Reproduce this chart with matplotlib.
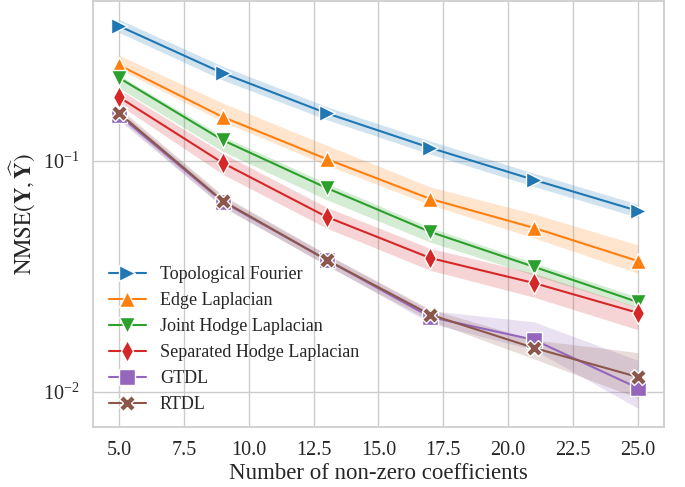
import matplotlib
matplotlib.use("Agg")
import matplotlib.pyplot as plt
import seaborn as sns
import numpy as np

x = [5, 9, 13, 17, 21, 25]
labels = ["Topological Fourier", "Edge Laplacian", "Joint Hodge Laplacian",
          "Separated Hodge Laplacian", "GTDL", "RTDL"]
markers = [">", "^", "v", "d", "s", "X"]

topo = [0.384, 0.240, 0.161, 0.114, 0.0828, 0.0608]
topo_hi = [0.410, 0.257, 0.172, 0.122, 0.0885, 0.0650]
topo_lo = [0.360, 0.224, 0.151, 0.107, 0.0775, 0.0570]

edge = [0.260, 0.155, 0.102, 0.0685, 0.0513, 0.0369]
edge_hi = [0.287, 0.178, 0.117, 0.0772, 0.0590, 0.0433]
edge_lo = [0.250, 0.148, 0.096, 0.0646, 0.0464, 0.0327]

joint = [0.229, 0.123, 0.0764, 0.0493, 0.0348, 0.0245]
joint_hi = [0.235, 0.128, 0.0800, 0.0515, 0.0362, 0.0257]
joint_lo = [0.207, 0.110, 0.0680, 0.0445, 0.0320, 0.0232]

sep = [0.189, 0.098, 0.0573, 0.0380, 0.0296, 0.0220]
sep_hi = [0.204, 0.108, 0.0630, 0.0418, 0.0326, 0.0233]
sep_lo = [0.175, 0.0875, 0.0512, 0.0336, 0.0257, 0.0186]

gtdl = [0.158, 0.0665, 0.0373, 0.0211, 0.0168, 0.0104]
gtdl_hi = [0.166, 0.0700, 0.0393, 0.0225, 0.0201, 0.0137]
gtdl_lo = [0.150, 0.0630, 0.0355, 0.0198, 0.0152, 0.0085]

rtdl = [0.161, 0.0671, 0.0373, 0.0216, 0.0155, 0.0116]
rtdl_hi = [0.170, 0.0710, 0.0395, 0.0228, 0.0168, 0.0148]
rtdl_lo = [0.153, 0.0635, 0.0352, 0.0203, 0.0139, 0.0094]

series = [(topo, topo_lo, topo_hi), (edge, edge_lo, edge_hi), (joint, joint_lo, joint_hi),
          (sep, sep_lo, sep_hi), (gtdl, gtdl_lo, gtdl_hi), (rtdl, rtdl_lo, rtdl_hi)]

sns.set_theme(style="whitegrid")
plt.rcParams["font.family"] = ["Liberation Serif", "DejaVu Serif"]
plt.rcParams["mathtext.fontset"] = "stix"

colors = sns.color_palette("tab10")

fig = plt.figure(figsize=(6.85, 4.87), dpi=100)
ax = fig.add_axes([0.136, 0.123, 0.833, 0.875])

for i, (y, lo, hi) in enumerate(series):
    c = colors[i]
    ax.fill_between(x, lo, hi, color=c, alpha=0.2, linewidth=0)
    ax.plot(x, y, color=c, marker=markers[i], markersize=11, markeredgecolor="white",
            markeredgewidth=1.0, linewidth=1.5, label=labels[i])

ax.set_yscale("log")
ax.set_xlim(4.0, 26.0)
ax.set_ylim(0.00704, 0.493)
ax.set_xticks([5.0, 7.5, 10.0, 12.5, 15.0, 17.5, 20.0, 22.5, 25.0])
ax.set_xticklabels(["5.0", "7.5", "10.0", "12.5", "15.0", "17.5", "20.0", "22.5", "25.0"])
ax.yaxis.set_minor_locator(matplotlib.ticker.NullLocator())
ax.tick_params(axis="both", labelsize=14.5, pad=4)
ax.set_xlabel("Number of non-zero coefficients", fontsize=16.5, labelpad=2)
ax.set_ylabel(r"$\mathrm{NMSE}(\mathbf{Y},\widehat{\mathbf{Y}})$", fontsize=16.5)
ax.legend(loc="lower left", frameon=False, fontsize=13, bbox_to_anchor=(0.0, -0.005))

fig.savefig("out.png", dpi=100)
